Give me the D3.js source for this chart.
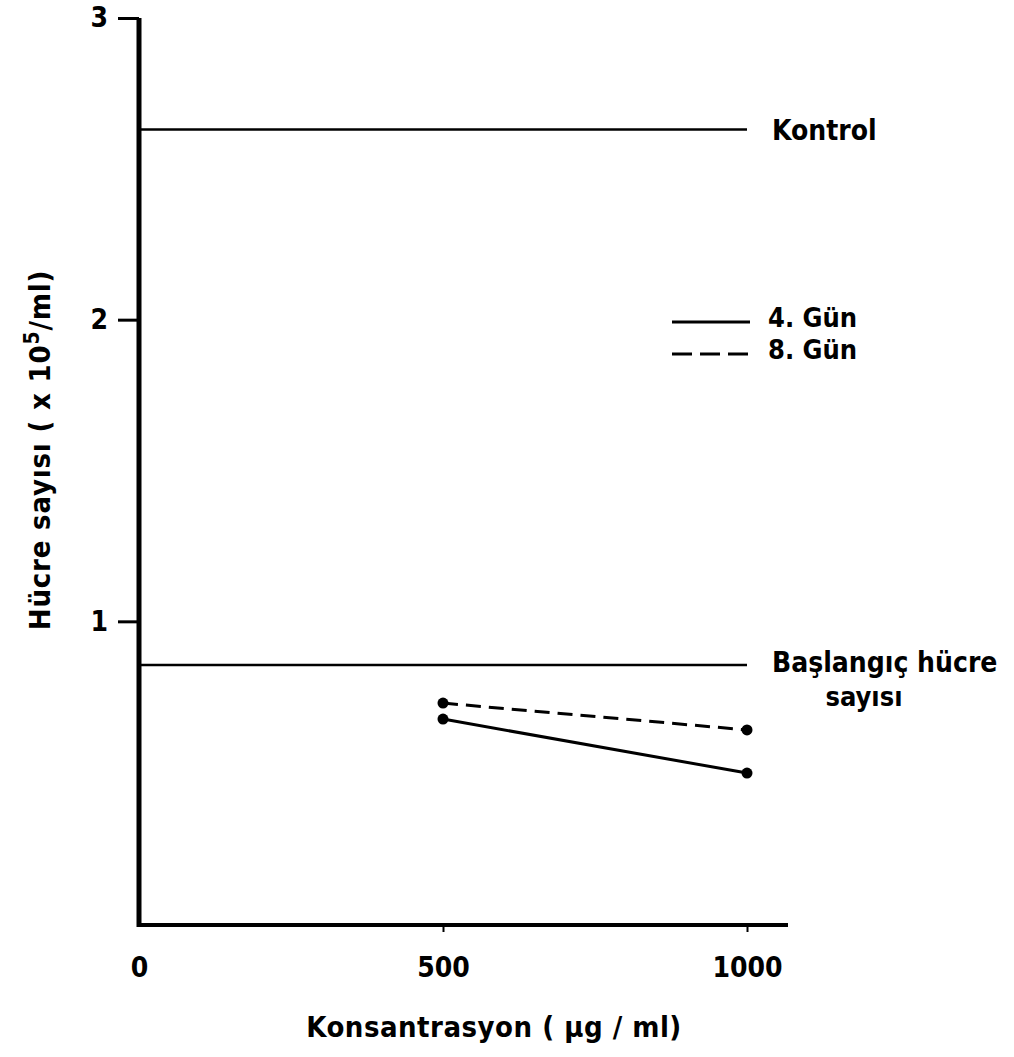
<!DOCTYPE html>
<html>
<head>
<meta charset="utf-8">
<script src="https://cdn.jsdelivr.net/npm/d3@7"></script>
<style>
  body { margin: 0; background: #fff; }
  svg text { font-family: "DejaVu Sans Condensed", "DejaVu Sans", sans-serif; font-weight: bold; fill: #000; }
</style>
</head>
<body>
<svg id="root"></svg>
<script>
// data
const concentrations = [500, 1000];
const day4 = [0.676, 0.497];
const day8 = [0.729, 0.64];
const kontrol = 2.63;
const baslangic = 0.855;
const xTicks = [0, 500, 1000];
const yTicks = [1, 2, 3];

const width = 1014,
  height = 1057;

const svg = d3.select("svg#root").attr("width", width).attr("height", height);

const x = d3.scaleLinear().domain([0, 1000]).range([139, 747]);
const y = d3.scaleLinear().domain([0, 3]).range([923, 18]);
const xEnd = x.invert(788);

// y axis
const yAxis = svg
  .append("g")
  .attr("transform", `translate(${x(0)},0)`)
  .call(d3.axisLeft(y).tickValues(yTicks).tickFormat(d3.format("d")).tickSize(21).tickSizeOuter(0).tickPadding(10));
yAxis.select(".domain").attr("stroke", "#000").attr("stroke-width", 5)
  .attr("d", `M0,${y(3)}V${y(0) + 4}`);
yAxis.selectAll(".tick line").attr("stroke", "#000").attr("stroke-width", 3);
yAxis.selectAll(".tick text").attr("font-size", 28).attr("font-family", null);

// x axis
const xAxis = svg
  .append("g")
  .attr("transform", `translate(0,${y(0) + 2})`)
  .call(d3.axisBottom(x).tickValues(xTicks).tickSize(7).tickSizeOuter(0).tickPadding(25).tickFormat(d3.format("d")));
xAxis.select(".domain").attr("stroke", "#000").attr("stroke-width", 4)
  .attr("d", `M${x(0) - 2},0H${x(xEnd)}`);
xAxis.selectAll(".tick line").attr("stroke", "#000").attr("stroke-width", 2)
  .attr("opacity", (d) => (d === 0 ? 0 : 1));
xAxis.selectAll(".tick text").attr("font-size", 28).attr("font-family", null);

// reference lines
const refs = [
  { v: kontrol, label: ["Kontrol"], dy: 10 },
  { v: baslangic, label: ["Başlangıç hücre", "sayısı"], dy: 7 },
];
refs.forEach((r) => {
  svg.append("line")
    .attr("x1", x(0)).attr("x2", x(1000))
    .attr("y1", y(r.v)).attr("y2", y(r.v))
    .attr("stroke", "#000").attr("stroke-width", 2.5);
  svg.append("text")
    .attr("font-size", 28)
    .attr("x", 772)
    .attr("y", y(r.v) + r.dy)
    .text(r.label[0]);
  if (r.label[1]) {
    svg.append("text")
      .attr("font-size", 27)
      .attr("text-anchor", "middle")
      .attr("x", 864)
      .attr("y", y(r.v) + r.dy + 34)
      .text(r.label[1]);
  }
});

// series
const series = [
  { name: "4. Gün", values: day4, dash: null },
  { name: "8. Gün", values: day8, dash: "15,8" },
];
const line = d3.line().x((d) => x(d[0])).y((d) => y(d[1]));
series.forEach((s) => {
  const pts = concentrations.map((c, i) => [c, s.values[i]]);
  svg.append("path")
    .attr("d", line(pts))
    .attr("fill", "none")
    .attr("stroke", "#000")
    .attr("stroke-width", 3)
    .attr("stroke-dasharray", s.dash);
  svg.selectAll(null).data(pts).join("circle")
    .attr("cx", (d) => x(d[0])).attr("cy", (d) => y(d[1]))
    .attr("r", 5.5).attr("fill", "#000");
});

// legend
series.forEach((s, i) => {
  const ly = 322 + i * 32;
  svg.append("line")
    .attr("x1", 672).attr("x2", 750).attr("y1", ly).attr("y2", ly)
    .attr("stroke", "#000").attr("stroke-width", 3)
    .attr("stroke-dasharray", s.dash ? "20,8" : null);
  svg.append("text").attr("font-size", 27).attr("x", 768).attr("y", ly + 5).text(s.name);
});

// axis titles
svg.append("text")
  .attr("font-size", 29)
  .attr("letter-spacing", 0.5)
  .attr("text-anchor", "middle")
  .attr("x", 494).attr("y", 1037)
  .text("Konsantrasyon  ( µg / ml)");

const yt = svg.append("text")
  .attr("font-size", 29)
  .attr("letter-spacing", 0.8)
  .attr("text-anchor", "middle")
  .attr("transform", "translate(50,450) rotate(-90)");
yt.append("tspan").text("Hücre sayısı  ( x 10");
yt.append("tspan").attr("font-size", 21).attr("dy", -11).text("5");
yt.append("tspan").attr("dy", 11).text("/ml)");
</script>
</body>
</html>
